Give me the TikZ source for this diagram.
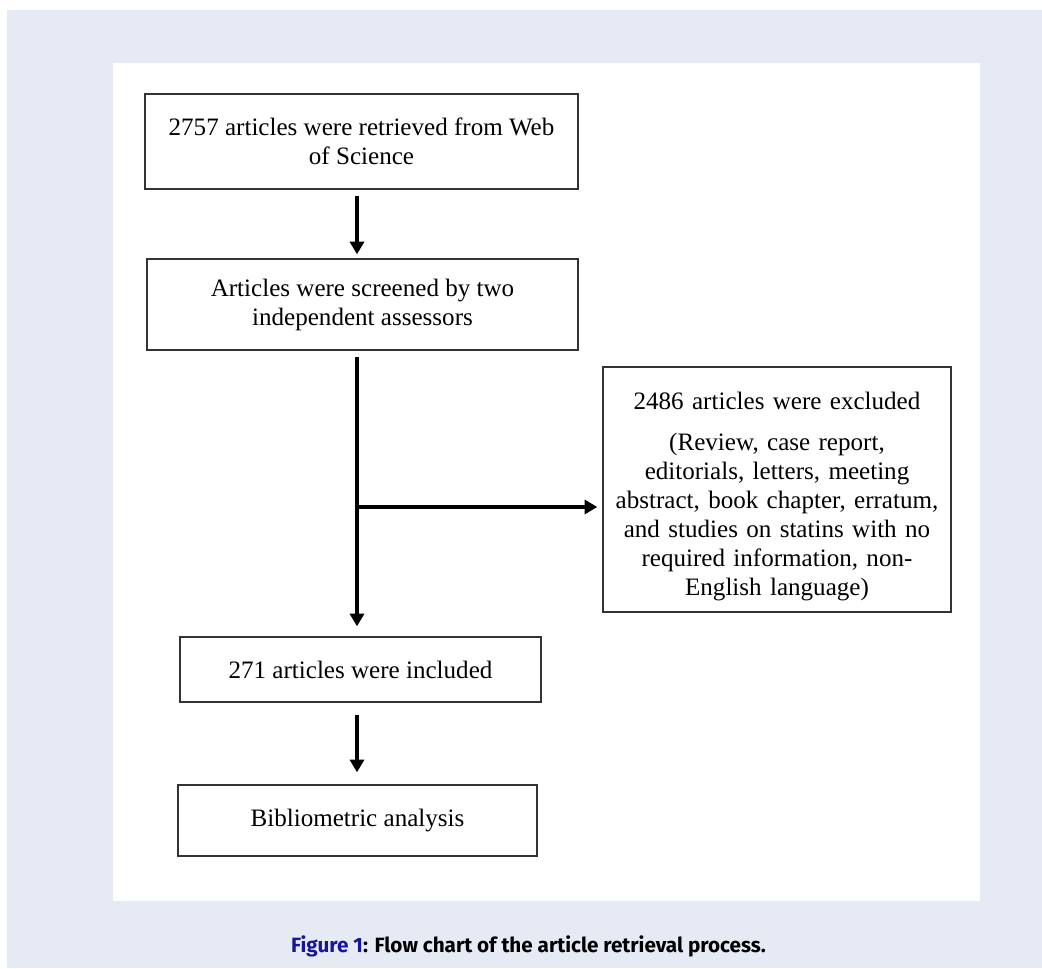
\documentclass[tikz,border=0pt]{standalone}
\usepackage{fontspec}
\setmainfont{Liberation Serif}
\newfontfamily\capfont{Fira Sans}
\usetikzlibrary{arrows.meta, positioning}
\definecolor{pagebg}{HTML}{E6EAF5}
\definecolor{figblue}{HTML}{16169A}
\begin{document}
\begin{tikzpicture}[x=0.75pt, y=-0.75pt,
    box/.style={draw=black!80, line width=1pt, align=center, inner sep=0pt,
      font=\fontsize{18.8}{21.75}\selectfont},
    arr/.style={line width=3pt, -{Triangle[length=9.5pt, width=10.5pt]}}]
        \useasboundingbox (0,0) rectangle (1042,968);
        \fill[pagebg] (7,10) rectangle (1042,968);
        \fill[white] (113,63) rectangle (980,901);

        \node[box, minimum width=324.75pt, minimum height=71.25pt] (b1) at (361.5,141.5)
          {2757 articles were retrieved from Web\\of Science};
        \node[box, minimum width=323.25pt, minimum height=68.25pt] (b2) at (362.5,304.5)
          {Articles were screened by two\\independent assessors};
        \node[box, minimum width=261pt, minimum height=183.75pt, text width=255pt] (b3) at (777,489.5)
          {\rule{0pt}{24pt}2486 articles were excluded\\[9pt](Review, case report,\\editorials, letters, meeting\\abstract, book chapter, erratum,\\and studies on statins with no\\required information, non-\\English language)};
        \node[box, minimum width=270.75pt, minimum height=48.75pt] (b4) at (360.5,669.5)
          {271 articles were included};
        \node[box, minimum width=269.25pt, minimum height=53.25pt] (b5) at (357.5,820.5)
          {Bibliometric analysis};

        \coordinate (tr) at (357,0);
        \coordinate (br) at (357,507);
        \draw[arr, shorten <=4.5pt, shorten >=3pt] (b1.south -| tr) -- (b2.north -| tr);
        \draw[arr, shorten <=4.5pt, shorten >=7.5pt] (b2.south -| tr) -- (b4.north -| tr);
        \draw[arr, shorten >=3.75pt] (br) -- (br -| b3.west);
        \draw[arr, shorten <=9pt, shorten >=9pt] (b4.south -| tr) -- (b5.north -| tr);

        \node[font=\capfont\bfseries\fontsize{15.5}{18}\selectfont] (cap) at (528.5,946)
          {\textcolor{figblue}{Figure 1}: Flow chart of the article retrieval process.};
\end{tikzpicture}
\end{document}
